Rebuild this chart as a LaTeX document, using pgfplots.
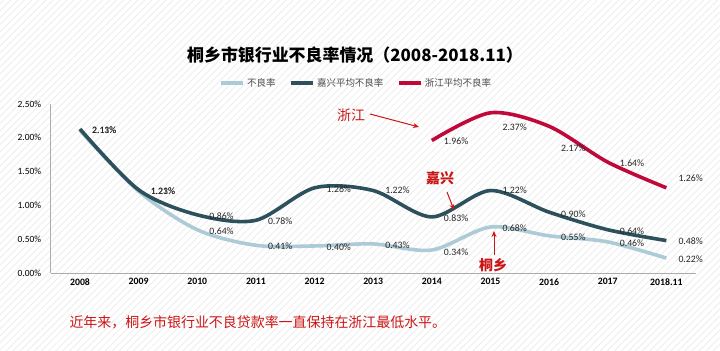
\documentclass[border=0pt]{standalone}
\usepackage{pgfplots}
\usepackage{pgfplotstable}
\pgfplotsset{compat=1.18}
\usepackage{fontspec}
\setmainfont{Carlito}
\newfontfamily\cjk{Noto Sans CJK SC}
\usetikzlibrary{patterns.meta,arrows.meta}
\definecolor{tx}{RGB}{172,203,214}
\definecolor{jx}{RGB}{44,80,92}
\definecolor{zj}{RGB}{192,8,58}
\definecolor{ann}{RGB}{204,22,22}

\pgfplotstableread{
x y dy
0 2.11 0
1 1.21 0
2 0.64 -1
3 0.41 -1
4 0.40 -1
5 0.43 -1
6 0.34 -2
7 0.68 -1
8 0.55 -1
9 0.46 -1
10 0.22 -1
}\tongxiang
\pgfplotstableread{
x y dy
0 2.13 -1
1 1.23 -1
2 0.86 -1
3 0.78 -1
4 1.26 -1
5 1.22 0
6 0.83 -1
7 1.22 0
8 0.90 -2
9 0.64 -1
10 0.48 -1
}\jiaxing
\pgfplotstableread{
x y dy
6 1.96 -1
7 2.37 -14
8 2.17 -22
9 1.64 -1
10 1.26 10
}\zhejiang

\pgfplotsset{
  lbl/.style={
    nodes near coords={\pgfmathprintnumber[fixed,fixed zerofill,precision=2,assume math mode=true]{\pgfplotspointmeta}\%},
    visualization depends on={\thisrow{dy} \as \dy},
    every node near coord/.append style={font=\fontsize{9.8}{11}\selectfont, anchor=west, xshift=7bp, yshift=\dy, text=black!85},
  }
}

\begin{document}
\begin{tikzpicture}[x=1bp,y=1bp]
\fill[white] (0,0) rectangle (720,350);
\fill[pattern={Lines[angle=45,distance=5bp,line width=0.7bp]},pattern color=gray!16] (0,0) rectangle (720,350);
\useasboundingbox (0,0) rectangle (720,350);
\begin{axis}[
  at={(80bp,77bp)}, anchor=origin,
  scale only axis, width=645bp, height=169bp,
  xmin=-0.5, xmax=10.5, ymin=0, ymax=2.5,
  axis x line*=bottom, axis y line*=left,
  axis line style={gray!65, line width=0.9bp, -},
  major tick length=0pt,
  xtick={0,...,10},
  xticklabels={2008,2009,2010,2011,2012,2013,2014,2015,2016,2017,2018.11},
  ytick={0,0.5,1,1.5,2,2.5},
  yticklabel={\pgfmathprintnumber[fixed,fixed zerofill,precision=2,assume math mode=true]{\tick}\%},
  xticklabel style={font=\bfseries\fontsize{9.8}{11}\selectfont, yshift=-2bp},
  yticklabel style={font=\fontsize{9.5}{11}\selectfont, xshift=-6bp},
  legend style={at={(0.474,1.124)}, anchor=center, legend columns=3, draw=none, fill=none,
    font=\cjk\fontsize{9.5}{11}\selectfont, text=black!70,
    /tikz/every even column/.append style={column sep=12bp}},
  legend image code/.code={\draw[#1, line width=3.5bp] (0bp,0bp) -- (22bp,0bp);},
  clip=false,
]
\addlegendimage{tx}
\addlegendentry{不良率}
\addlegendimage{jx}
\addlegendentry{嘉兴平均不良率}
\addlegendimage{zj}
\addlegendentry{浙江平均不良率}
\addplot[tx, line width=3.6bp, smooth, tension=0.5, lbl, forget plot] table[x=x,y=y] {\tongxiang};
\addplot[jx, line width=3.6bp, smooth, tension=0.5, lbl, forget plot] table[x=x,y=y] {\jiaxing};
\addplot[zj, line width=3.6bp, smooth, tension=0.5, lbl, forget plot] table[x=x,y=y] {\zhejiang};
\end{axis}
\node[font=\cjk\bfseries\fontsize{17}{20}\selectfont] at (355,295) {桐乡市银行业不良率情况（2008-2018.11）};
\node[anchor=west, font=\cjk\fontsize{14}{16}\selectfont, text=ann] at (66,28) {近年来，桐乡市银行业不良贷款率一直保持在浙江最低水平。};
\node[font=\cjk\fontsize{14}{16}\selectfont, text=ann] at (351,235) {浙江};
\draw[ann, line width=1bp, -{Stealth[length=6bp,width=5bp]}] (370,236) -- (419,223);
\node[font=\cjk\bfseries\fontsize{14}{16}\selectfont, text=ann] at (440,172) {嘉兴};
\draw[ann, line width=1bp, -{Stealth[length=6bp,width=5bp]}] (447,158) -- (454,140);
\node[font=\cjk\bfseries\fontsize{14}{16}\selectfont, text=ann] at (493,85) {桐乡};
\draw[ann, line width=1bp, -{Stealth[length=6bp,width=5bp]}] (494,95) -- (494,119);
\end{tikzpicture}
\end{document}
